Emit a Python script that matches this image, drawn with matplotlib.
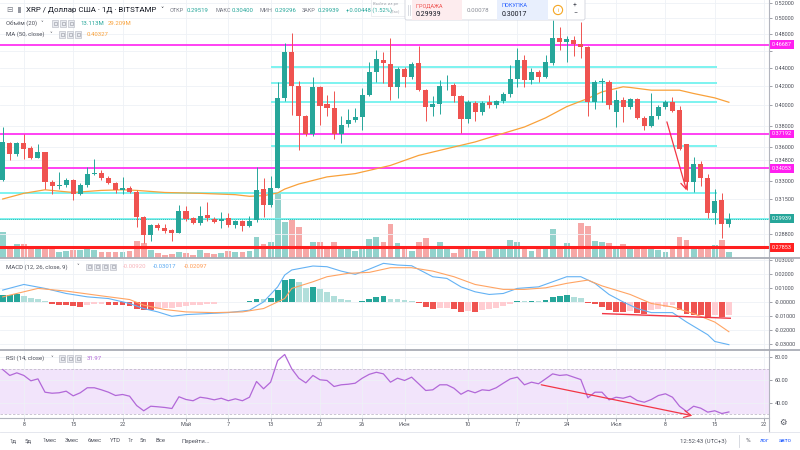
import numpy as np
import pandas as pd
import matplotlib
matplotlib.use('Agg')
import matplotlib.pyplot as plt
from matplotlib.patches import Rectangle, FancyBboxPatch, Circle
from matplotlib.ticker import FixedLocator, FixedFormatter, NullLocator
import matplotlib.transforms as mtransforms

plt.rcParams['font.family'] = ['Roboto', 'DejaVu Sans']

# ---------------- data ----------------
start_date = '2019-04-05'
opens = [0.331, 0.3634, 0.3537, 0.3634, 0.3592, 0.3501, 0.3552, 0.329, 0.3253, 0.3262,
         0.3304, 0.3194, 0.3262, 0.3355, 0.3366, 0.3327, 0.3285, 0.322, 0.3242, 0.3207,
         0.3012, 0.287, 0.2944, 0.2927, 0.2907, 0.289, 0.3054, 0.300, 0.2965, 0.3023,
         0.2997, 0.2977, 0.300, 0.2944, 0.2975, 0.294, 0.2982, 0.323, 0.3106, 0.3242,
         0.4078, 0.4585, 0.4205, 0.3895, 0.3716, 0.419, 0.401, 0.3975, 0.3716, 0.3814,
         0.3852, 0.388, 0.4106, 0.4355, 0.4491, 0.4447, 0.419, 0.4388, 0.4302, 0.4458,
         0.4166, 0.398, 0.4013, 0.420, 0.421, 0.4096, 0.3862, 0.402, 0.393, 0.4037,
         0.4003, 0.4045, 0.4116, 0.4284, 0.4491, 0.4267, 0.4362, 0.4302, 0.4463, 0.4748,
         0.470, 0.4727, 0.4677, 0.464, 0.4037, 0.4245, 0.4249, 0.3934, 0.406, 0.3985,
         0.4062, 0.3875, 0.3793, 0.3894, 0.3985, 0.4031, 0.3951, 0.3622, 0.329, 0.3447,
         0.3323, 0.3039, 0.3139, 0.29519]
highs = [0.379, 0.3644, 0.3644, 0.3716, 0.3604, 0.3622, 0.3552, 0.331, 0.3374, 0.3323,
         0.3318, 0.328, 0.3418, 0.3492, 0.339, 0.334, 0.329, 0.3332, 0.326, 0.322,
         0.302, 0.2955, 0.296, 0.2955, 0.292, 0.3106, 0.3095, 0.3005, 0.3095, 0.3129,
         0.3005, 0.3051, 0.304, 0.2985, 0.2985, 0.3018, 0.3418, 0.332, 0.334, 0.4248,
         0.4697, 0.4813, 0.4254, 0.390, 0.4302, 0.420, 0.4106, 0.4148, 0.389, 0.3968,
         0.397, 0.418, 0.4471, 0.4607, 0.4589, 0.4748, 0.441, 0.441, 0.4471, 0.4653,
         0.4175, 0.410, 0.4274, 0.432, 0.4237, 0.411, 0.406, 0.405, 0.405, 0.4106,
         0.406, 0.4138, 0.4433, 0.4627, 0.455, 0.440, 0.438, 0.4551, 0.497, 0.4891,
         0.478, 0.478, 0.4955, 0.4655, 0.427, 0.429, 0.427, 0.4165, 0.409, 0.408,
         0.4075, 0.389, 0.4124, 0.400, 0.4055, 0.409, 0.399, 0.3622, 0.3506, 0.347,
         0.3355, 0.3234, 0.3198, 0.304]
lows = [0.330, 0.3483, 0.352, 0.3492, 0.3492, 0.3501, 0.3234, 0.3194, 0.3234, 0.325,
        0.3144, 0.318, 0.325, 0.335, 0.331, 0.327, 0.320, 0.3194, 0.3198, 0.2932,
        0.2815, 0.2833, 0.291, 0.2885, 0.2833, 0.289, 0.2975, 0.2955, 0.2945, 0.2975,
        0.2965, 0.2927, 0.293, 0.2925, 0.2905, 0.293, 0.297, 0.3008, 0.3085, 0.324,
        0.405, 0.3908, 0.3573, 0.370, 0.370, 0.3803, 0.3895, 0.3675, 0.3634, 0.379,
        0.3838, 0.376, 0.41, 0.4243, 0.424, 0.4054, 0.408, 0.4195, 0.428, 0.415,
        0.3845, 0.389, 0.3918, 0.4159, 0.4037, 0.3729, 0.382, 0.3845, 0.390, 0.397,
        0.397, 0.402, 0.409, 0.4195, 0.4195, 0.423, 0.4243, 0.429, 0.444, 0.4607,
        0.4471, 0.4534, 0.451, 0.3891, 0.3968, 0.4037, 0.396, 0.3786, 0.3835, 0.396,
        0.386, 0.3754, 0.3785, 0.386, 0.396, 0.3935, 0.357, 0.322, 0.3207, 0.3253,
        0.3002, 0.2957, 0.2853, 0.29296]
closes = [0.364, 0.3537, 0.3634, 0.3583, 0.3501, 0.3549, 0.329, 0.3253, 0.3267, 0.3304,
          0.3194, 0.3262, 0.336, 0.3368, 0.3323, 0.3285, 0.322, 0.3242, 0.3207, 0.3012,
          0.287, 0.2944, 0.2925, 0.2902, 0.2887, 0.3054, 0.2995, 0.2965, 0.3018, 0.300,
          0.2973, 0.2995, 0.2944, 0.2975, 0.294, 0.2975, 0.3225, 0.3106, 0.3242, 0.4078,
          0.4585, 0.4205, 0.3891, 0.3716, 0.419, 0.3995, 0.3975, 0.3716, 0.381, 0.3852,
          0.388, 0.4106, 0.4355, 0.4498, 0.4458, 0.419, 0.4388, 0.4302, 0.4447, 0.4166,
          0.398, 0.4013, 0.4199, 0.4205, 0.4096, 0.3862, 0.4037, 0.393, 0.4025, 0.4003,
          0.4045, 0.4116, 0.4284, 0.4491, 0.4274, 0.4362, 0.4302, 0.4471, 0.4748, 0.470,
          0.4737, 0.4683, 0.464, 0.4037, 0.4249, 0.426, 0.4003, 0.4054, 0.398, 0.4062,
          0.3875, 0.3793, 0.3894, 0.398, 0.4031, 0.3942, 0.3579, 0.329, 0.3447, 0.3323,
          0.3039, 0.3131, 0.2952, 0.29939]
volumes_m = [57.2, 24.2, 30.8, 30.8, 19.8, 22.0, 19.8, 19.8, 13.2, 15.4,
             17.6, 17.6, 19.8, 17.6, 13.2, 13.2, 13.2, 13.2, 15.4, 37.4,
             33.0, 17.6, 11.0, 6.6, 8.8, 13.2, 11.0, 6.6, 17.6, 11.0,
             8.8, 11.0, 15.4, 13.2, 13.2, 15.4, 46.2, 30.8, 35.2, 143.0,
             79.2, 88.0, 68.2, 22.0, 35.2, 35.2, 22.0, 35.2, 22.0, 22.0,
             15.4, 22.0, 41.8, 46.2, 35.2, 74.8, 33.0, 24.2, 15.4, 35.2,
             44.0, 19.8, 35.2, 19.8, 11.0, 22.0, 19.8, 15.4, 15.4, 19.8,
             22.0, 22.0, 39.6, 35.2, 22.0, 15.4, 26.4, 26.4, 63.8, 26.4,
             33.0, 26.4, 77.0, 70.4, 37.4, 35.2, 33.0, 26.4, 30.8, 22.0,
             22.0, 22.0, 22.0, 17.6, 13.2, 19.8, 46.2, 39.6, 22.0, 19.8,
             26.4, 28.6, 39.6, 13.1]
ma50_idx = [0, 3, 6, 10, 14, 17, 19, 23, 28, 33, 35, 37, 39, 40, 42, 46, 50, 52, 55, 59,
            63, 65, 67, 70, 74, 77, 80, 83, 85, 88, 89, 92, 96, 98, 101, 103]
ma50_val = [0.315, 0.3196, 0.3225, 0.3203, 0.322, 0.3225, 0.322, 0.3203, 0.3196, 0.3185,
            0.3172, 0.3177, 0.3199, 0.3231, 0.3273, 0.3333, 0.3361, 0.3389, 0.3432, 0.3521,
            0.3582, 0.3613, 0.3644, 0.3705, 0.3786, 0.3875, 0.3988, 0.4072, 0.4141, 0.4195,
            0.4188, 0.4159, 0.4159, 0.4124, 0.4078, 0.40327]
macd_idx = [0, 3, 6, 9, 12, 15, 18, 20, 22, 24, 26, 29, 32, 35, 37, 39, 40, 41, 44, 46,
            48, 50, 52, 54, 56, 58, 61, 63, 65, 67, 69, 71, 73, 76, 78, 80, 82, 84, 86, 88,
            90, 92, 95, 97, 100, 101, 103]
macd_val = [0.0086, 0.0126, 0.0098, 0.0062, 0.0038, 0.0026, -0.0009, -0.0045, -0.0069, -0.0100,
            -0.0088, -0.0081, -0.0074, -0.0057, 0.0002, 0.0109, 0.0193, 0.0229, 0.0257, 0.0252,
            0.0221, 0.0198, 0.0235, 0.0276, 0.0264, 0.0259, 0.0181, 0.0169, 0.0109, 0.0074,
            0.0055, 0.0062, 0.0098, 0.0109, 0.0145, 0.0181, 0.0181, 0.0134, 0.0055, 0.0002,
            -0.0045, -0.0074, -0.0074, -0.0141, -0.0231, -0.0279, -0.03017]
signal_idx = [0, 3, 5, 9, 14, 18, 20, 23, 26, 30, 34, 37, 40, 41, 44, 46, 49, 52, 55, 58,
              61, 64, 67, 71, 74, 77, 80, 83, 85, 89, 92, 95, 98, 101, 103]
signal_val = [0.0038, 0.0074, 0.0098, 0.0079, 0.0045, 0.0019, -0.0021, -0.0052, -0.0069, -0.0074,
              -0.0069, -0.0045, 0.0026, 0.0098, 0.0145, 0.0181, 0.0205, 0.0212, 0.0245, 0.0245,
              0.0221, 0.0181, 0.0126, 0.0091, 0.0091, 0.0102, 0.0134, 0.0157, 0.0116, 0.0055,
              -0.0009, -0.0034, -0.0081, -0.0141, -0.02097]
hist = [0.0050, 0.0053, 0.0056, 0.0045, 0.0033, 0.0026, 0.0007, -0.0012, -0.0021, -0.0021,
        -0.0029, -0.0033, -0.0021, -0.0014, -0.0010, -0.0021, -0.0021, -0.0021, -0.0026, -0.0045,
        -0.0052, -0.0052, -0.0045, -0.0040, -0.0038, -0.0033, -0.0026, -0.0021, -0.0017, -0.0012,
        -0.0010, 0.0003, 0.0002, 0.0002, 0.0001, 0.0007, 0.0021, 0.0021, 0.0033, 0.0090,
        0.0157, 0.0164, 0.0140, 0.0100, 0.0105, 0.0093, 0.0074, 0.0043, 0.0026, 0.0014,
        0.0002, 0.0010, 0.0021, 0.0038, 0.0045, 0.0026, 0.0024, 0.0014, 0.0010, -0.0005,
        -0.0033, -0.0045, -0.0043, -0.0042, -0.0050, -0.0069, -0.0064, -0.0069, -0.0057, -0.0045,
        -0.0038, -0.0026, -0.0014, 0.0007, 0.0007, 0.0012, 0.0007, 0.0014, 0.0036, 0.0045,
        0.0050, 0.0038, 0.0031, -0.0007, -0.0014, -0.0033, -0.0057, -0.0069, -0.0069, -0.0064,
        -0.0074, -0.0081, -0.0057, -0.0045, -0.0033, -0.0021, -0.0057, -0.0081, -0.0088, -0.0093,
        -0.0105, -0.0093, -0.0105, -0.0092]
rsi = [69.2, 64.0, 66.3, 64.0, 59.3, 61.0, 49.3, 48.4, 48.8, 50.2,
       46.1, 48.8, 53.2, 53.2, 51.4, 49.3, 46.4, 47.3, 45.8, 37.6,
       33.0, 37.0, 36.5, 35.9, 35.0, 45.3, 42.9, 41.8, 44.9, 44.0,
       42.6, 44.0, 41.8, 43.5, 41.8, 44.9, 58.7, 52.3, 58.1, 77.1,
       82.4, 69.8, 61.6, 57.5, 64.0, 60.2, 59.6, 54.3, 55.8, 56.3,
       57.2, 61.6, 65.0, 66.8, 65.4, 58.1, 61.6, 59.6, 62.5, 56.7,
       50.8, 51.4, 55.8, 55.8, 52.8, 47.5, 50.8, 48.8, 51.4, 50.8,
       53.2, 57.2, 61.0, 62.5, 55.8, 58.1, 56.7, 61.0, 65.4, 64.0,
       64.6, 62.5, 60.4, 44.4, 49.3, 49.3, 42.6, 44.9, 44.0, 45.8,
       42.0, 40.5, 42.9, 46.4, 47.9, 44.9, 37.0, 32.4, 37.0, 35.3,
       31.8, 33.0, 30.6, 31.97]

magenta_levels = [0.46687, 0.37192, 0.34053]
red_level = 0.27853
cyan_short_levels = [0.4416, 0.4231, 0.4037, 0.3608]
cyan_long_level = 0.3198
cyan_full_level = 0.2997
cyan_short_start, cyan_end = 38.0, 101.3
price_arrow = [(94.1, 0.3862), (97.1, 0.3198)]
macd_trend = [(85.1, -0.0081), (103.2, -0.0114)]
rsi_arrow = [(76.0, 56.3), (98.2, 28.2)]

price_ticks = [0.52, 0.50, 0.48, 0.46, 0.44, 0.42, 0.40, 0.38, 0.36, 0.348, 0.33, 0.315, 0.30, 0.288]
price_tick_hidden = [0.46, 0.30]   # covered by the level labels
macd_ticks = [0.03, 0.02, 0.01, 0.0, -0.01, -0.02, -0.03]
macd_tick_labels = ['0.03000', '0.02000', '0.01000', '-0.00000', '-0.01000', '-0.02000', '-0.03000']
rsi_ticks = [80, 60, 40]
tick_dates = ['2019-04-08', '2019-04-15', '2019-04-22', '2019-05-01', '2019-05-07', '2019-05-13',
              '2019-05-20', '2019-05-26', '2019-06-01', '2019-06-10', '2019-06-17', '2019-06-24',
              '2019-07-01', '2019-07-08', '2019-07-15', '2019-07-22']
tick_labels = ['8', '15', '22', 'Май', '7', '13', '20', '26', 'Июн', '10', '17', '24', 'Июл', '8', '15', '22']

# ---------------- layout ----------------
W, H = 800, 450
fig = plt.figure(figsize=(8, 4.5), dpi=100)
fig.patch.set_facecolor('white')

def box(l, t, r, b):
    return [l / W, 1 - b / H, (r - l) / W, (b - t) / H]

n = len(closes)
x = np.arange(n)
t0 = pd.Timestamp(start_date)
tick_idx = [(pd.Timestamp(d) - t0).days for d in tick_dates]
XL = (-0.383, 108.69)
UP, DN = '#26a69a', '#ef5350'
GRID = '#eef1f6'
TXT = '#4c4f59'
FS = 4.0

def style(a):
    for s in a.spines.values():
        s.set_visible(False)
    a.set_xlim(*XL)
    a.xaxis.set_major_locator(FixedLocator(tick_idx))
    a.grid(True, color=GRID, lw=0.6)
    a.set_axisbelow(True)
    a.yaxis.tick_right()
    a.tick_params(axis='y', length=2.5, width=0.5, color='#787b86', labelsize=FS,
                  labelcolor=TXT, pad=1.5)
    a.tick_params(axis='x', length=0, labelbottom=False)

# price panel
ax_vol = fig.add_axes(box(0, 0, 769, 257.5))
ax = fig.add_axes(box(0, 0, 769, 257.5))
ax_vol.set_zorder(1)
ax.set_zorder(2)
ax.patch.set_visible(False)
for s in ax_vol.spines.values():
    s.set_visible(False)
ax_vol.set_xlim(*XL)
ax_vol.set_ylim(0, max(volumes_m) / 0.249)
ax_vol.set_xticks([]); ax_vol.set_yticks([])
vcol = [UP if c >= o else DN for o, c in zip(opens, closes)]
ax_vol.bar(x, volumes_m, width=0.82, color=vcol, alpha=0.5, linewidth=0)

style(ax)
ax.set_yscale('log')
ax.set_ylim(0.2713, 0.5236)
ax.yaxis.set_major_locator(FixedLocator(price_ticks))
ax.yaxis.set_major_formatter(FixedFormatter(
    ['' if p in price_tick_hidden else '%.5f' % p for p in price_ticks]))
ax.yaxis.set_minor_locator(NullLocator())

# horizontal drawn levels
for lv in cyan_short_levels:
    ax.hlines(lv, cyan_short_start, cyan_end, color='#7df3f0', lw=1.4, zorder=2)
ax.hlines(cyan_long_level, XL[0], cyan_end, color='#7df3f0', lw=1.4, zorder=2)
ax.axhline(cyan_full_level, color='#7df3f0', lw=1.4, zorder=2)
ax.axhline(closes[-1], color=UP, lw=0.6, ls=(0, (1, 1.5)), zorder=2)
for lv in magenta_levels:
    ax.axhline(lv, color='#ff33f2', lw=1.3, zorder=2)
ax.axhline(red_level, color='#ff1f1f', lw=2.2, zorder=2)

# MA 50
ax.plot(ma50_idx, ma50_val, color='#f9a13a', lw=0.9, zorder=3)

# candles
for i in range(n):
    o, h, l, c = opens[i], highs[i], lows[i], closes[i]
    col = UP if c >= o else DN
    ax.vlines(i, l, h, color=col, lw=0.7, zorder=4)
    lo_, hi_ = min(o, c), max(o, c)
    if hi_ / lo_ < 1.002:
        hi_ = lo_ * 1.002
    ax.bar(i, hi_ - lo_, bottom=lo_, width=0.72, color=col, linewidth=0, zorder=5)

ax.annotate('', xy=price_arrow[1], xytext=price_arrow[0],
            arrowprops=dict(arrowstyle='->,head_length=0.5,head_width=0.25',
                            color='#f23645', lw=0.9), zorder=6)

# right axis labels (boxes)
bt = mtransforms.blended_transform_factory(ax.transAxes, ax.transData)
def axis_label(a, tr, v, txt, fc):
    a.text(1.004, v, txt, transform=tr, fontsize=FS, color='white', va='center', ha='left',
           clip_on=False, zorder=20,
           bbox=dict(boxstyle='square,pad=0.35', fc=fc, ec='none'))
for lv in magenta_levels:
    axis_label(ax, bt, lv, '%.5f' % lv, '#ff1ff0')
axis_label(ax, bt, closes[-1], '%.5f' % closes[-1], UP)
axis_label(ax, bt, red_level, '%.5f' % red_level, '#ff2020')

# MACD panel
axm = fig.add_axes(box(0, 258, 769, 349.5))
style(axm)
axm.set_ylim(-0.0336, 0.0314)
axm.yaxis.set_major_locator(FixedLocator(macd_ticks))
axm.yaxis.set_major_formatter(FixedFormatter(macd_tick_labels))
hcol = []
for i, hv in enumerate(hist):
    prev = hist[i - 1] if i > 0 else hv - 1e-9
    if hv >= 0:
        hcol.append('#26a69a' if hv > prev else '#b2dfdb')
    else:
        hcol.append('#ffcdd2' if hv > prev else '#ef5350')
axm.bar(x, hist, width=0.82, color=hcol, linewidth=0, zorder=2)
axm.plot(macd_idx, macd_val, color='#64b2f4', lw=0.8, zorder=3)
axm.plot(signal_idx, signal_val, color='#ffa463', lw=0.8, zorder=3)
axm.plot([macd_trend[0][0], macd_trend[1][0]], [macd_trend[0][1], macd_trend[1][1]],
         color='#f23645', lw=1.0, zorder=4)

# RSI panel
axr = fig.add_axes(box(0, 350.5, 769, 417.5))
style(axr)
axr.set_ylim(27.1, 85.9)
axr.yaxis.set_major_locator(FixedLocator(rsi_ticks))
axr.yaxis.set_major_formatter(FixedFormatter(['%.2f' % v for v in rsi_ticks]))
axr.axhspan(30, 70, color='#f2e4fb', zorder=0.5, lw=0)
for lv in (70, 30):
    axr.axhline(lv, color='#c3bccc', lw=0.6, ls=(0, (3, 2)), zorder=1)
axr.plot(x, rsi, color='#b268d8', lw=0.9, zorder=3)
axr.annotate('', xy=rsi_arrow[1], xytext=rsi_arrow[0],
             arrowprops=dict(arrowstyle='->,head_length=0.5,head_width=0.25',
                             color='#f23645', lw=0.9), zorder=6, annotation_clip=False)
axr.tick_params(axis='x', length=2, width=0.5, color='#787b86', direction='out',
                labelbottom=True, labelsize=FS, labelcolor=TXT, pad=1.2)
axr.xaxis.set_major_formatter(FixedFormatter(tick_labels))

# ---------------- overlay chrome ----------------
ov = fig.add_axes([0, 0, 1, 1], zorder=30)
ov.set_xlim(0, W); ov.set_ylim(H, 0)
ov.axis('off'); ov.patch.set_alpha(0)

def T(xp, yp, s, fs=4.3, c=TXT, **kw):
    ov.text(xp, yp, s, fontsize=fs, color=c, va='center', ha='left', **kw)

# frame lines
ov.plot([769, 769], [0, 432], color='#b2b5be', lw=0.8)
for yy in (257.5, 349.5):
    ov.plot([0, W], [yy, yy], color='#a9acb5', lw=1.3)
ov.plot([0, 769], [417.5, 417.5], color='#b2b5be', lw=0.8)
ov.plot([0, W], [431.5, 431.5], color='#e0e3eb', lw=0.6)
T(779, 422, '⚙', fs=6, c='#50535e', family=['DejaVu Sans'])

def icons(x0, y0, k):
    for j in range(k):
        ov.add_patch(Rectangle((x0 + j * 8, y0 - 3.2), 6.4, 6.4, fc='#e9ebf0', ec='#b2b5be', lw=0.4))
        ov.add_patch(Rectangle((x0 + j * 8 + 1.8, y0 - 1.4), 2.8, 2.8, fc='none', ec='#9598a1', lw=0.4))

# header line 1
T(6, 10, '⊟', fs=5.5, c='#787b86', family=['DejaVu Sans'])
ov.add_patch(Rectangle((17.5, 7), 3.5, 6, fc='#9598a1', ec='none'))
T(26, 10, 'XRP / Доллар США · 1Д · BITSTAMP', fs=5.7, c='#131722')
T(160, 10, '˅', fs=4.5, c='#131722', family=['DejaVu Sans'])
for lab, lx, val, vx in [('ОТКР', 170, '0.29519', 187), ('МАКС', 215, '0.30400', 232),
                         ('МИН', 260, '0.29296', 275), ('ЗАКР', 302, '0.29939', 318)]:
    T(lx, 10, lab, fs=4.0, c='#787b86')
    T(vx, 10, val, fs=4.3, c=UP)
T(346, 10, '+0.00448 (1.52%)', fs=4.2, c=UP)
# tooltip (semi-transparent, over the change text)
ov.add_patch(Rectangle((371, -1), 34, 17, fc='white', ec='#d6d8de', lw=0.5, alpha=0.6))
T(373, 3.5, 'Выйти из ре', fs=3.2, c='#a3a6af')
T(391, 11.5, '(Esc)', fs=3.0, c='#a3a6af')

# header line 2/3
T(6, 23.5, 'Объём (20)', fs=4.3, c=TXT)
T(40, 23.5, '˅', fs=4, c=TXT, family=['DejaVu Sans'])
icons(52, 23.5, 3)
T(80, 23.5, '13.113M', fs=4.3, c=UP)
T(108, 23.5, '29.209M', fs=4.3, c='#f9a13a')
T(6, 34.5, 'MA (50, close)', fs=4.3, c=TXT)
T(49, 34.5, '˅', fs=4, c=TXT, family=['DejaVu Sans'])
icons(59, 34.5, 3)
T(87, 34.5, '0.40327', fs=4.3, c='#f9a13a')

# buy/sell widget
ov.add_patch(FancyBboxPatch((405, -3), 180, 23, boxstyle='round,pad=0,rounding_size=2',
                            fc='white', ec='#d1d4dc', lw=0.6))
ov.plot([408, 408], [5, 15], color='#d1d4dc', lw=0.6)
ov.plot([410, 410], [5, 15], color='#d1d4dc', lw=0.6)
ov.add_patch(Rectangle((412, -2), 50, 21.5, fc='#fdecee', ec='none'))
ov.add_patch(Rectangle((497, -2), 51, 21.5, fc='#e8effd', ec='none'))
T(416, 5.5, 'ПРОДАЖА', fs=4.0, c='#ef5350')
T(416, 14, '0.29939', fs=5.0, c='#131722')
T(467, 10.5, '0.00078', fs=4.4, c='#8a8d96')
T(502, 5.5, 'ПОКУПКА', fs=4.0, c='#2962ff')
T(502, 14, '0.30017', fs=5.0, c='#131722')
ov.add_patch(Circle((558, 10), 4.6, fc='white', ec='#f5a623', lw=0.8))
ov.text(558, 10.3, 'i', fontsize=4, color='#f5a623', ha='center', va='center')
ov.plot([566, 566], [-2, 19], color='#e0e3eb', lw=0.5)
ov.text(575, 5, '+', fontsize=5, color='#50535e', ha='center', va='center')
ov.text(575, 14, '−', fontsize=5, color='#50535e', ha='center', va='center')

# MACD / RSI legends
T(6, 266.7, 'MACD (12, 26, close, 9)', fs=4.3, c=TXT)
T(76, 266.7, '˅', fs=4, c=TXT, family=['DejaVu Sans'])
icons(86, 266.7, 4)
T(123, 266.7, '-0.00920', fs=4.3, c='#f8b4bb')
T(153, 266.7, '-0.03017', fs=4.3, c='#5aa9f2')
T(184, 266.7, '-0.02097', fs=4.3, c='#ff9a52')
T(6, 358.3, 'RSI (14, close)', fs=4.3, c=TXT)
T(50, 358.3, '˅', fs=4, c=TXT, family=['DejaVu Sans'])
icons(59, 358.3, 3)
T(87, 358.3, '31.97', fs=4.3, c='#b268d8')

# bottom toolbar
for s, xp in [('1д', 9), ('5д', 25), ('1мес', 42), ('3мес', 65), ('6мес', 88), ('YTD', 110),
              ('1г', 127), ('5л', 140), ('Все', 155), ('Перейти...', 181)]:
    T(xp, 441, s, fs=4.3, c='#50535e')
T(680, 441, '12:52:43 (UTC+3)', fs=4.3, c='#50535e')
ov.plot([739, 739], [435, 447], color='#d1d4dc', lw=0.6)
T(746, 441, '%', fs=4.5, c='#50535e')
T(760, 441, 'лог', fs=4.3, c='#2962ff')
T(779, 441, 'авто', fs=4.3, c='#2962ff')

fig.savefig('out.png', dpi=100, facecolor='white')
